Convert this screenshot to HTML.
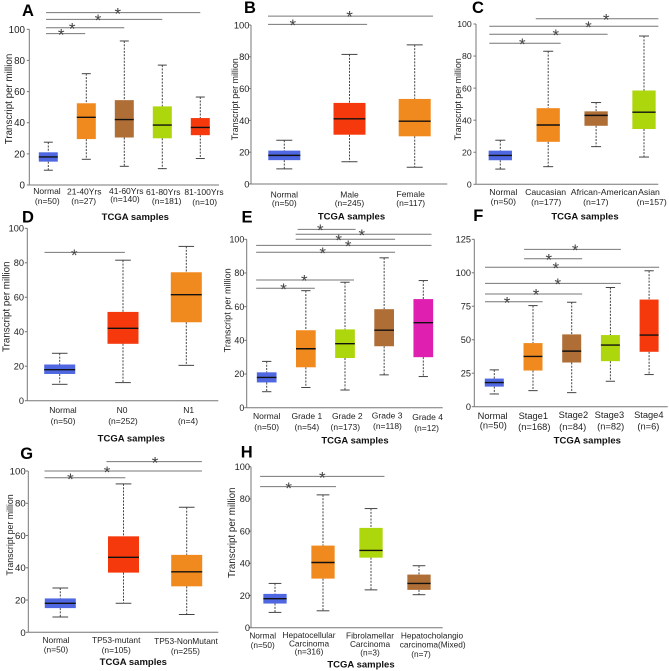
<!DOCTYPE html>
<html>
<head>
<meta charset="utf-8">
<title>TCGA boxplots</title>
<style>
html,body{margin:0;padding:0;background:#fff;}
svg{display:block;font-family:"Liberation Sans",Arial,sans-serif;filter:blur(0.3px);}
</style>
</head>
<body>
<svg id="figure" xmlns="http://www.w3.org/2000/svg" width="669" height="671" viewBox="0 0 669 671"></svg>
<script>
/* ---------- Panel A: age ---------- */
const aCategories = ["Normal","21-40Yrs","41-60Yrs","61-80Yrs","81-100Yrs"];
const aCounts = [50,27,140,181,10];
const aLow = [9.5,16.5,12,10.5,17];
const aQ1 = [15,29.5,30.5,30,32];
const aMedian = [18,43.5,42,38.5,37];
const aQ3 = [21,52.5,54.5,50.5,43];
const aHigh = [27.5,71.5,92.5,77,56.5];
const aTicks = [0,20,40,60,80,100];
const aSigFrom = [-0.06,-0.06,-0.06,-0.06];
const aSigTo = [4,3,2,0.97];
const aSigLevel = [110.7,106.4,101,97.2];
const aSigStar = [1.83,1.31,0.63,0.34];

/* ---------- Panel B: gender ---------- */
const bCategories = ["Normal","Male","Female"];
const bCounts = [50,245,117];
const bLow = [9.5,14,10.5];
const bQ1 = [15,31,30];
const bMedian = [18,41,39.5];
const bQ3 = [21,51,53.5];
const bHigh = [27.5,81.5,87.5];
const bTicks = [0,20,40,60,80,100];
const bSigFrom = [-0.25,-0.25];
const bSigTo = [1.27,2.28];
const bSigLevel = [100.4,105.6];
const bSigStar = [0.13,1.0];

/* ---------- Panel C: race ---------- */
const cCategories = ["Normal","Caucasian","African-American","Asian"];
const cCounts = [50,177,17,157];
const cLow = [9.5,11,23.5,17];
const cQ1 = [15,26.5,36.5,34.5];
const cMedian = [18,37,43,45];
const cQ3 = [21,47.5,45.5,58.5];
const cHigh = [27.5,83,51,92.5];
const cTicks = [0,20,40,60,80,100];
const cSigFrom = [-0.23,-0.23,-0.23,0.74];
const cSigTo = [1.26,2.24,3.3,3.3];
const cSigLevel = [88,93.6,98.6,103.3];
const cSigStar = [0.46,1.16,1.84,2.21];

/* ---------- Panel D: nodal metastasis ---------- */
const dCategories = ["Normal","N0","N1"];
const dCounts = [50,252,4];
const dLow = [9.5,10.5,20.5];
const dQ1 = [15.5,33,45.5];
const dMedian = [18,42,61.5];
const dQ3 = [21,51.5,74.5];
const dHigh = [27.5,81.5,89.5];
const dTicks = [0,20,40,60,80,100];
const dSigFrom = [-0.24];
const dSigTo = [1.03];
const dSigLevel = [86];
const dSigStar = [0.23];

/* ---------- Panel E: grade ---------- */
const eCategories = ["Normal","Grade 1","Grade 2","Grade 3","Grade 4"];
const eCounts = [50,54,173,118,12];
const eLow = [9.5,12,10.5,19.5,18.5];
const eQ1 = [15,24,29.5,36.5,30];
const eMedian = [18,35,38,46,50.5];
const eQ3 = [21,46,46.5,58.5,64.5];
const eHigh = [27.5,69.5,74.5,89,75.5];
const eTicks = [0,20,40,60,80,100];
const eSigFrom = [-0.27,-0.27,-0.27,-0.27,0.74,0.74,0.79];
const eSigTo = [1.23,2.23,3.28,4.21,3.28,4.21,2.27];
const eSigLevel = [70.9,75.8,92.3,96.4,100,103,105.9];
const eSigStar = [0.43,0.96,1.43,2.08,1.84,2.43,1.37];

/* ---------- Panel F: stage ---------- */
const fCategories = ["Normal","Stage1","Stage2","Stage3","Stage4"];
const fCounts = [50,168,84,82,6];
const fLow = [9.5,12,10.5,19,24];
const fQ1 = [15,27,33,34,41];
const fMedian = [18,37.5,41.5,46,53.5];
const fQ3 = [21,47.5,54,53.5,80];
const fHigh = [27.5,75.5,78,89,101.5];
const fTicks = [0,25,50,75,100,125];
const fSigFrom = [-0.24,-0.24,-0.24,-0.24,0.77,0.77];
const fSigTo = [1.25,2.27,3.27,4.26,2.27,3.27];
const fSigLevel = [78.4,84.2,92.1,104.1,110.5,117.5];
const fSigStar = [0.33,1.08,1.64,1.59,1.41,2.09];

/* ---------- Panel G: TP53 status ---------- */
const gCategories = ["Normal","TP53-mutant","TP53-NonMutant"];
const gCounts = [50,105,255];
const gLow = [9.5,18,11];
const gQ1 = [15,37,28.5];
const gMedian = [18,46.5,37.5];
const gQ3 = [21,59.5,48];
const gHigh = [27.5,92,77.5];
const gTicks = [0,20,40,60,80,100];
const gSigFrom = [-0.25,-0.25,0.73];
const gSigTo = [1.03,2.24,2.24];
const gSigLevel = [95.8,100,105.8];
const gSigStar = [0.16,0.74,1.5];

/* ---------- Panel H: histology ---------- */
const hCategories = ["Normal","Hepatocellular|Carcinoma","Fibrolamellar|Carcinoma","Hepatocholangio|carcinoma(Mixed)"];
const hCounts = [50,316,3,7];
const hLow = [9.5,10.5,23.5,20.5];
const hQ1 = [15,30.5,43.5,23.5];
const hMedian = [18,40.5,48,27.5];
const hQ3 = [21,51,62,33];
const hHigh = [27.5,82.5,74,38.5];
const hTicks = [0,20,40,60,80,100];
const hSigFrom = [-0.31,-0.31];
const hSigTo = [1.27,2.28];
const hSigLevel = [87.6,94];
const hSigStar = [0.285,0.985];

/* ---------- Colours (not data) ---------- */
const BLUE="#4f68e2",ORANGE="#f18a1e",BROWN="#af6e36",LIME="#aed60d",RED="#f5390d",PINK="#df1fb0";

/* ---------- Panel wiring and layout ---------- */
const panels = [
 {id:"a",letter:"A",lx:28,ly:16,cats:aCategories,n:aCounts,low:aLow,q1:aQ1,med:aMedian,q3:aQ3,high:aHigh,ticks:aTicks,
  sf:aSigFrom,st:aSigTo,sl:aSigLevel,ss:aSigStar,
  ax:29.3,yTop:29.3,yBot:185,yMax:100,xEnd:219,x0:48.3,step:38,boxW:19,capW:9,colors:[BLUE,ORANGE,BROWN,LIME,RED],
  tickFs:9.8,tickR:25,labFs:8.5,starOff:2.8,
  labels:[[[-1.3,190.7],[-1,200.7]],[[-2,191.3],[-2.6,200.7]],[[2,190.7],[0.7,199]],[[1,191.7],[4.4,201]],[[3.7,192],[4.4,202]]],
  xTitle:[135.3,216.7],yTitle:[8.7,99,9.8]},
 {id:"b",letter:"B",lx:250,ly:13,cats:bCategories,n:bCounts,low:bLow,q1:bQ1,med:bMedian,q3:bQ3,high:bHigh,ticks:bTicks,
  sf:bSigFrom,st:bSigTo,sl:bSigLevel,ss:bSigStar,
  ax:251,yTop:25,yBot:184,yMax:100,xEnd:447.3,x0:284.3,step:65.2,boxW:32,capW:16,colors:[BLUE,RED,ORANGE],
  tickFs:9.4,tickR:249.5,labFs:8.5,starOff:3.2,
  labels:[[[0,194.3],[0,203]],[[0,194.3],[0,203]],[[-4,194],[-4,203]]],
  xTitle:[351.5,216.3],yTitle:[235,99.3,8.9]},
 {id:"c",letter:"C",lx:478,ly:13,cats:cCategories,n:cCounts,low:cLow,q1:cQ1,med:cMedian,q3:cQ3,high:cHigh,ticks:cTicks,
  sf:cSigFrom,st:cSigTo,sl:cSigLevel,ss:cSigStar,
  ax:476,yTop:24,yBot:184.3,yMax:100,xEnd:658.3,x0:500.3,step:47.9,boxW:23.3,capW:10,colors:[BLUE,ORANGE,BROWN,LIME],
  tickFs:8.7,tickR:471.7,labFs:8.7,starOff:3,
  labels:[[[3,191.7],[3,201.3]],[[-2.6,191.7],[-2,202]],[[8,192],[-0.3,202]],[[5,192],[7.7,202]]],
  xTitle:[585,216.3],yTitle:[457.7,99.3,8.9]},
 {id:"d",letter:"D",lx:28,ly:222.5,cats:dCategories,n:dCounts,low:dLow,q1:dQ1,med:dMedian,q3:dQ3,high:dHigh,ticks:dTicks,
  sf:dSigFrom,st:dSigTo,sl:dSigLevel,ss:dSigStar,
  ax:27.3,yTop:228.3,yBot:400.7,yMax:100,xEnd:218.3,x0:59.7,step:63.3,boxW:31,capW:15.6,colors:[BLUE,RED,ORANGE],
  tickFs:9.2,tickR:24,labFs:8.5,starOff:1,
  labels:[[[3.3,410],[3.3,420.7]],[[-1,410],[0,420.7]],[[2.4,410],[1.7,420.7]]],
  xTitle:[131.3,438.3],yTitle:[6,306.7,9.8]},
 {id:"e",letter:"E",lx:247,ly:222.5,cats:eCategories,n:eCounts,low:eLow,q1:eQ1,med:eMedian,q3:eQ3,high:eHigh,ticks:eTicks,
  sf:eSigFrom,st:eSigTo,sl:eSigLevel,ss:eSigStar,
  ax:246.7,yTop:239.3,yBot:407.7,yMax:100,xEnd:442.7,x0:266.7,step:39.15,boxW:19.7,capW:9.3,colors:[BLUE,ORANGE,LIME,BROWN,PINK],
  tickFs:8.9,tickR:244.3,labFs:8.5,starOff:3,
  labels:[[[0,416],[0,426.7]],[[1,416],[1,427]],[[2.3,416],[0.3,427]],[[3,415.3],[3.3,426]],[[4.3,417],[3.3,427.7]]],
  xTitle:[355,440],yTitle:[227.3,310.3,9.1]},
 {id:"f",letter:"F",lx:478.3,ly:221,cats:fCategories,n:fCounts,low:fLow,q1:fQ1,med:fMedian,q3:fQ3,high:fHigh,ticks:fTicks,
  sf:fSigFrom,st:fSigTo,sl:fSigLevel,ss:fSigStar,
  ax:474.3,yTop:239.3,yBot:406.7,yMax:125,xEnd:667.7,x0:494.3,step:38.7,boxW:19,capW:9.3,colors:[BLUE,ORANGE,BROWN,LIME,RED],
  tickFs:9.2,tickR:471,labFs:9.3,starOff:3,
  labels:[[[-1.7,415.7],[-1,425.3]],[[0.3,415.7],[1.3,426.7]],[[1.7,414.7],[1,426.7]],[[-1,414.7],[0.3,426]],[[-0.3,414.7],[-0.7,426]]],
  xTitle:[587.3,440],yTitle:null},
 {id:"g",letter:"G",lx:26.7,ly:459,cats:gCategories,n:gCounts,low:gLow,q1:gQ1,med:gMedian,q3:gQ3,high:gHigh,ticks:gTicks,
  sf:gSigFrom,st:gSigTo,sl:gSigLevel,ss:gSigStar,
  ax:28.3,yTop:471,yBot:632.3,yMax:100,xEnd:218.3,x0:60.3,step:63.2,boxW:31,capW:15.7,colors:[BLUE,RED,ORANGE],
  tickFs:9.6,tickR:25.7,labFs:8.4,starOff:2.5,
  labels:[[[-4.3,640],[-4.3,649.3]],[[-7.3,640],[-7.3,650]],[[-0.7,641],[-1.3,651]]],
  xTitle:[133.3,661.7],yTitle:[10,535,8.8]},
 {id:"h",letter:"H",lx:246.7,ly:457.5,cats:hCategories,n:hCounts,low:hLow,q1:hQ1,med:hMedian,q3:hQ3,high:hHigh,ticks:hTicks,
  sf:hSigFrom,st:hSigTo,sl:hSigLevel,ss:hSigStar,
  ax:251,yTop:466.7,yBot:627.7,yMax:100,xEnd:442.7,x0:275,step:48,boxW:23.3,capW:12.7,colors:[BLUE,ORANGE,LIME,BROWN],
  tickFs:9.2,tickR:250,labFs:8.3,starOff:2.5,
  labels:[[[-12.3,635.7],[-12.3,645]],[[-14,635],[-14,643.3],[-14,651.7]],[[-1,635.7],[-1,644],[-1,652.7]],[[13,635.7],[13.7,644.3],[2,654]]],
  xTitle:[361,664],yTitle:[231.7,532.7,9.8]}
];

const NS = "http://www.w3.org/2000/svg";
const root = document.getElementById("figure");

function make(tag, parent, attrs, text){
  const el = document.createElementNS(NS, tag);
  for (const k in attrs) el.setAttribute(k, attrs[k]);
  if (text !== undefined) el.textContent = text;
  parent.appendChild(el);
  return el;
}

panels.forEach(function(p){
  const xScale = function(c){ return p.x0 + p.step * c; };
  const yScale = function(v){ return p.yBot - (p.yBot - p.yTop) * v / p.yMax; };

  const g = make("g", root, {});
  
  

  const letter = make("text", g, {x:p.lx, y:p.ly, "text-anchor":"middle", "font-size":16.5, "font-weight":"bold", fill:"#000"}, p.letter);
  
  

  /* axes */
  const yAxis = make("line", g, {x1:p.ax, x2:p.ax, y1:p.yTop, y2:p.yBot, stroke:"#777", "stroke-width":1});
  
  

  const xAxis = make("line", g, {x1:p.ax, x2:p.xEnd, y1:p.yBot, y2:p.yBot, stroke:"#777", "stroke-width":1});
  
  

  p.ticks.forEach(function(t){
    const y = yScale(t);
    const mark = make("line", g, {x1:p.ax - 2.5, x2:p.ax, y1:y, y2:y, stroke:"#777", "stroke-width":1});
    
    

    const lab = make("text", g, {x:p.tickR, y:y + p.tickFs * 0.36, "text-anchor":"end", "font-size":p.tickFs, fill:"#222"}, String(t));
    
    
  });

  if (p.yTitle) {
    const yt = make("text", g, {transform:"translate(" + p.yTitle[0] + "," + p.yTitle[1] + ") rotate(-90)", y:p.yTitle[2] * 0.36, "text-anchor":"middle", "font-size":p.yTitle[2], fill:"#222"}, "Transcript per million");
    
    
  }

  const xt = make("text", g, {x:p.xTitle[0], y:p.xTitle[1] + 3.4, "text-anchor":"middle", "font-size":9.5, "font-weight":"bold", fill:"#111"}, "TCGA samples");
  
  

  /* significance bars */
  p.sl.forEach(function(level, i){
    const y = yScale(level);
    const bar = make("line", g, {x1:xScale(p.sf[i]), x2:xScale(p.st[i]), y1:y, y2:y, stroke:"#777", "stroke-width":1});
    
    

    const star = make("text", g, {x:xScale(p.ss[i]), y:y - p.starOff + 9.6, "text-anchor":"middle", "font-size":17, fill:"#444"}, "*");
    
    
  });

  /* boxes */
  p.cats.forEach(function(cat, i){
    const cx = xScale(i);
    const box = make("g", g, {});
    
    

    const upper = make("line", box, {x1:cx, x2:cx, y1:yScale(p.high[i]), y2:yScale(p.q3[i]), stroke:"#444", "stroke-width":1, "stroke-dasharray":"2 1.3"});
    
    

    const lower = make("line", box, {x1:cx, x2:cx, y1:yScale(p.q1[i]), y2:yScale(p.low[i]), stroke:"#444", "stroke-width":1, "stroke-dasharray":"2 1.3"});
    
    

    const capHigh = make("line", box, {x1:cx - p.capW / 2, x2:cx + p.capW / 2, y1:yScale(p.high[i]), y2:yScale(p.high[i]), stroke:"#444", "stroke-width":1});
    
    

    const capLow = make("line", box, {x1:cx - p.capW / 2, x2:cx + p.capW / 2, y1:yScale(p.low[i]), y2:yScale(p.low[i]), stroke:"#444", "stroke-width":1});
    
    

    const rect = make("rect", box, {x:cx - p.boxW / 2, width:p.boxW, y:yScale(p.q3[i]), height:yScale(p.q1[i]) - yScale(p.q3[i]), fill:p.colors[i]});
    
    

    const med = make("line", box, {x1:cx - p.boxW / 2, x2:cx + p.boxW / 2, y1:yScale(p.med[i]), y2:yScale(p.med[i]), stroke:"#111", "stroke-width":1.4});
    
    

    /* category labels */
    const lines = cat.split("|").concat(["(n=" + p.n[i] + ")"]);
    lines.forEach(function(line, k){
      const pos = p.labels[i][k];
      const t = make("text", g, {x:cx + pos[0], y:pos[1] + p.labFs * 0.36, "text-anchor":"middle", "font-size":p.labFs, fill:"#222"}, line);
      
      
    });
  });
});
</script>
</body>
</html>
